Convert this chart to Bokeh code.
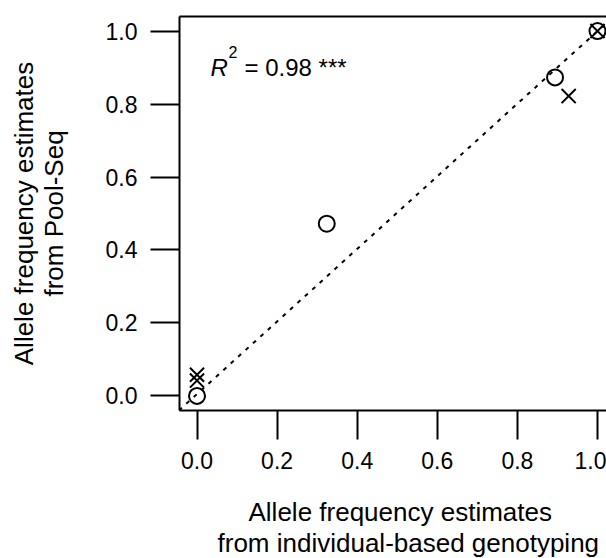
import math
from bokeh.plotting import figure
from bokeh.models import Range1d, LinearAxis, FixedTicker, Label, Slope, Title
from bokeh.embed import file_html
from bokeh.resources import INLINE

# ---- data ----
circle_x = [0.0, 0.324, 0.894, 1.0]
circle_y = [0.0, 0.472, 0.873, 1.0]
cross_x = [0.0, 0.0, 0.928, 1.0]
cross_y = [0.058, 0.042, 0.822, 1.0]
fit_intercept = 0.005
fit_slope = 0.995
tick_values = [0.0, 0.2, 0.4, 0.6, 0.8, 1.0]
tick_labels = {0.0: "0.0", 0.2: "0.2", 0.4: "0.4", 0.6: "0.6", 0.8: "0.8", 1.0: "1.0"}
r2_text = "= 0.98 ***"
x_title = ["Allele frequency estimates", "from individual-based genotyping"]
y_title = ["Allele frequency estimates", "from Pool-Seq"]

FONT = "Liberation Sans"
W, H = 606, 558

p = figure(width=W, height=H, output_backend="svg", toolbar_location=None,
           x_range=Range1d(-0.0437, 1.0225), y_range=Range1d(-0.04, 1.04),
           x_axis_type=None, y_axis_type=None,
           min_border_left=179, min_border_right=0, min_border_top=16,
           min_border_bottom=148)
p.outline_line_color = None
p.xgrid.visible = False
p.ygrid.visible = False
p.background_fill_color = "white"
p.border_fill_color = "white"

def style_axis(ax, standoff, spacer):
    ax.ticker = FixedTicker(ticks=tick_values)
    ax.major_label_overrides = tick_labels
    ax.axis_line_width = 2
    ax.axis_line_color = "black"
    ax.major_tick_line_width = 2
    ax.major_tick_line_color = "black"
    ax.major_tick_out = 29
    ax.major_tick_in = 0
    ax.minor_tick_out = 0
    ax.minor_tick_in = 0
    ax.major_label_text_font = FONT
    ax.major_label_text_font_size = "23px"
    ax.major_label_text_color = "black"
    ax.major_label_standoff = standoff
    # invisible spacer between tick labels and the two-line title
    ax.axis_label = " "
    ax.axis_label_text_font_size = "1px"
    ax.axis_label_standoff = spacer

xa = LinearAxis()
style_axis(xa, 12, 19)
p.add_layout(xa, "below")
ya = LinearAxis()
style_axis(ya, 13, 30)
ya.major_label_orientation = "horizontal"
p.add_layout(ya, "left")

top = LinearAxis(ticker=FixedTicker(ticks=[]))
top.axis_line_width = 2
top.major_tick_out = 0
top.major_tick_in = 0
top.minor_tick_out = 0
top.minor_tick_in = 0
top.major_label_text_font_size = "0px"
top.major_label_standoff = 0
p.add_layout(top, "above")

# axis titles as side-panel titles (two lines each)
def side_title(text, loc, align="center", offset=0, standoff=0):
    t = Title(text=text, align=align, offset=offset, standoff=standoff,
              text_font=FONT, text_font_size="26px", text_font_style="normal",
              text_color="black")
    p.add_layout(t, loc)

side_title(x_title[0], "below", align="left", offset=69, standoff=0)
side_title(x_title[1], "below", align="left", offset=38, standoff=-2)
side_title(y_title[1], "left", standoff=0)
side_title(y_title[0], "left", standoff=-4)

# regression line (dotted)
p.add_layout(Slope(gradient=fit_slope, y_intercept=fit_intercept,
                   line_color="black", line_width=2, line_dash="4 6"))

p.scatter(circle_x, circle_y, marker="circle", size=16, line_color="black",
          line_width=2, fill_color="white")
p.scatter(cross_x, cross_y, marker="x", size=20, line_color="black",
          line_width=2)

def screen_label(x, y, text, size, **kw):
    lab = Label(x=x, y=y, x_units="screen", y_units="screen", text=text,
                text_font=FONT, text_font_size=size, text_color="black", **kw)
    p.add_layout(lab)

# R^2 annotation (screen units relative to the plot frame)
screen_label(31, 343, "R", "24px", text_font_style="italic",
             text_baseline="alphabetic", text_align="left")
screen_label(49, 359, "2", "16px", text_baseline="alphabetic", text_align="left")
screen_label(65, 343, r2_text, "24px", text_baseline="alphabetic", text_align="left")

open("out.html", "w").write(file_html(p, INLINE))
